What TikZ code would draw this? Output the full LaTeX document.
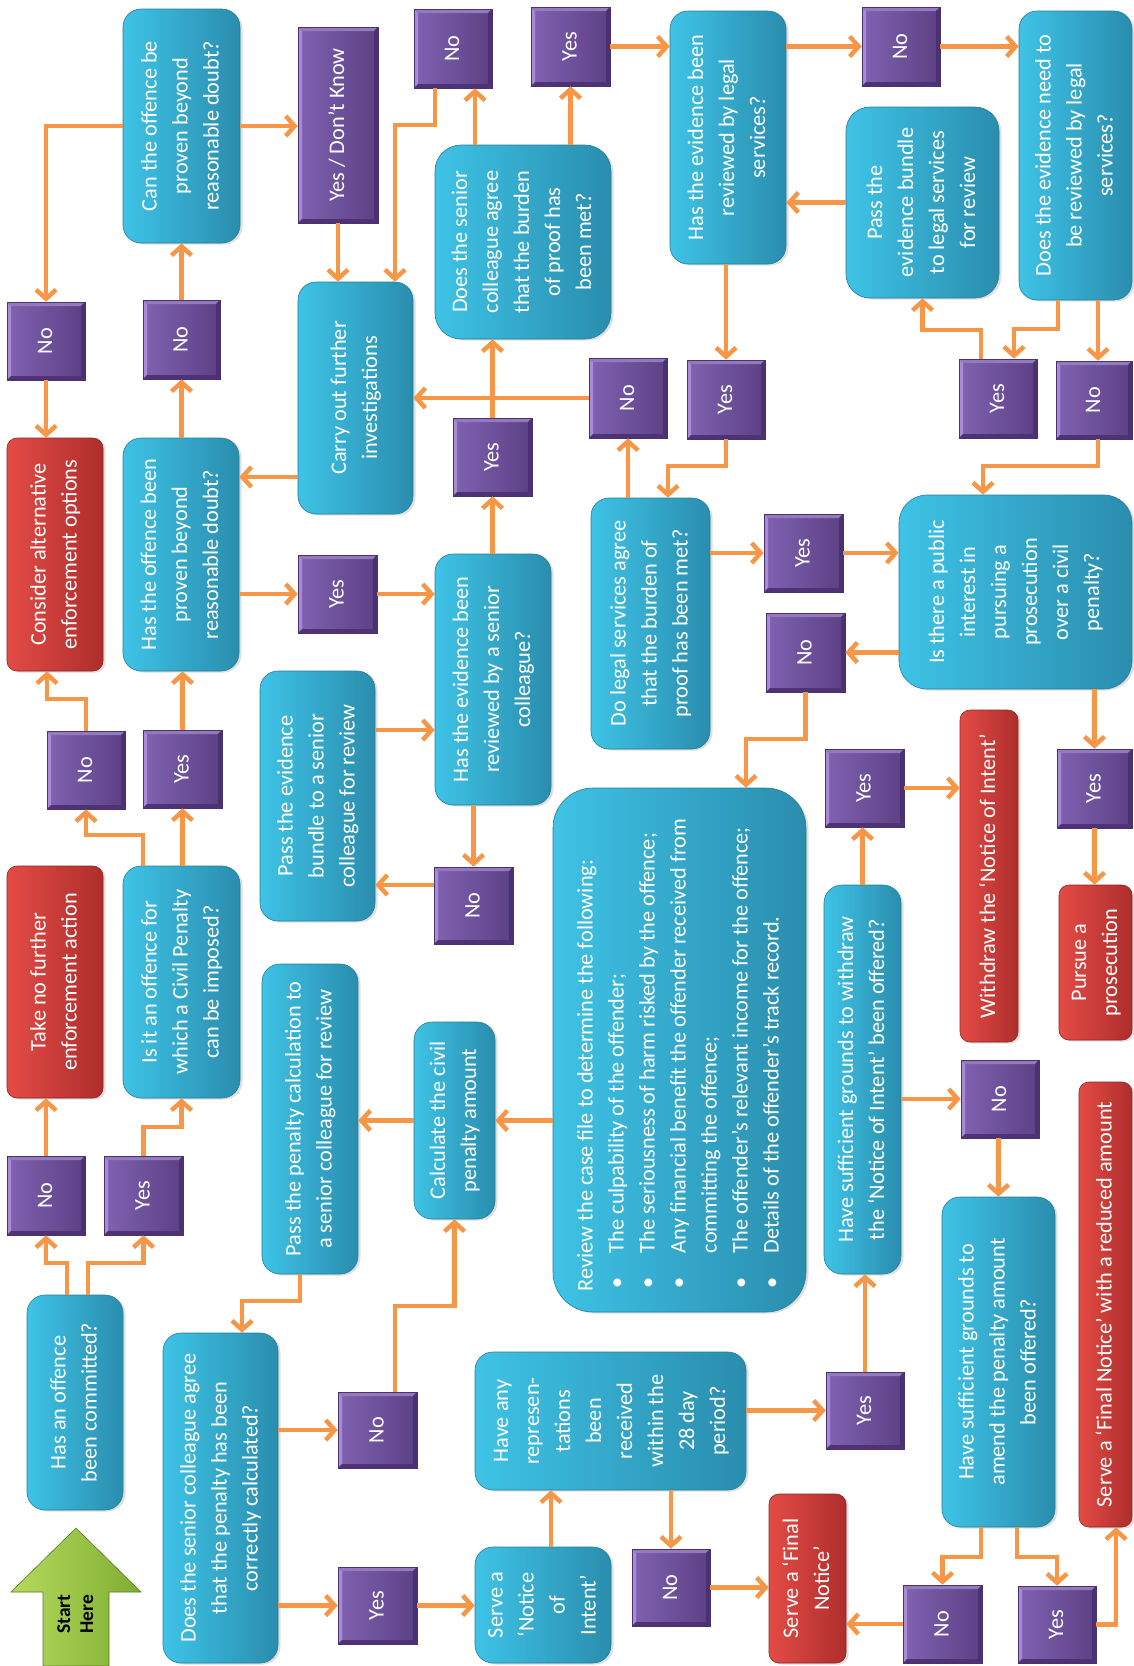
\documentclass[tikz,border=0pt]{standalone}
\usepackage{fontspec}
\setmainfont{Carlito}
\usepackage{graphicx}
\usetikzlibrary{arrows.meta,shadows}
\definecolor{arrowC}{HTML}{F79646}
\definecolor{cyL}{HTML}{3EC3E6}
\definecolor{cyR}{HTML}{2A8DAE}
\definecolor{cyD}{HTML}{237E9C}
\definecolor{puL}{HTML}{8062B2}
\definecolor{puR}{HTML}{5C4084}
\definecolor{puHi}{HTML}{A98AD8}
\definecolor{puLo}{HTML}{4A3170}
\definecolor{reL}{HTML}{E44B45}
\definecolor{reR}{HTML}{AE2E2C}
\definecolor{grL}{HTML}{B4DA5C}
\definecolor{grR}{HTML}{7FAE32}
\newcommand\rtx[1]{\rotatebox{90}{\begin{tabular}{@{}c@{}}#1\end{tabular}}}
\newcommand\bul{\makebox[38pt][l]{\hspace{3pt}•}}
\newcommand\pbevel{%
 \fill[puHi] (path picture bounding box.south west) -- (path picture bounding box.north west) -- ([shift={(4pt,-4pt)}]path picture bounding box.north west) -- ([shift={(4pt,4pt)}]path picture bounding box.south west) -- cycle;
 \fill[puL!85!white] (path picture bounding box.north west) -- (path picture bounding box.north east) -- ([shift={(-4pt,-4pt)}]path picture bounding box.north east) -- ([shift={(4pt,-4pt)}]path picture bounding box.north west) -- cycle;
 \fill[puLo] (path picture bounding box.north east) -- (path picture bounding box.south east) -- ([shift={(-4pt,4pt)}]path picture bounding box.south east) -- ([shift={(-4pt,-4pt)}]path picture bounding box.north east) -- cycle;
 \fill[puLo!85!puR] (path picture bounding box.south west) -- (path picture bounding box.south east) -- ([shift={(-4pt,4pt)}]path picture bounding box.south east) -- ([shift={(4pt,4pt)}]path picture bounding box.south west) -- cycle;}
\tikzset{
 base/.style={inner sep=0pt, text=white, font=\fontsize{22.3}{31}\selectfont},
 shad/.style={drop shadow={shadow xshift=2.5pt, shadow yshift=-1.5pt, opacity=0.25}},
 cbox/.style 2 args={base, shad, rectangle, rounded corners=18pt, left color=cyL, right color=cyR, draw=cyD, line width=0.6pt, minimum width=#1pt, minimum height=#2pt},
 rbox/.style 2 args={base, shad, rectangle, rounded corners=10pt, left color=reL, right color=reR, draw=reR!80!black, line width=0.6pt, minimum width=#1pt, minimum height=#2pt},
 pbox/.style 2 args={base, rectangle, left color=puL, right color=puR, draw=puLo, line width=0.6pt, minimum width=#1pt, minimum height=#2pt, path picture={\pbevel}},
 arr/.style={draw=arrowC, line width=4.5pt, -{Straight Barb[length=9pt,width=20pt]}}
}
\begin{document}
\begin{tikzpicture}[x=1pt,y=-1pt]
\useasboundingbox (0,0) rectangle (1134,1666);
\fill[white] (0,0) rectangle (1134,1666);

% start arrow
\shade[left color=grL, right color=grR, draw=grR!70!black, line width=0.6pt]
 (43,1666) -- (43,1592) -- (11,1592) -- (76,1528) -- (141,1592) -- (109,1592) -- (109,1666) -- cycle;
\node[inner sep=0pt, text=black, font=\bfseries\fontsize{19.5}{23}\selectfont] (start) at (77,1614) {\rtx{Start\\Here}};

% nodes
\node[cbox={96}{215}] (oc) at (75,1402.5) {\rtx{Has an offence\\been committed?}};
\node[pbox={78}{79}] (n0) at (46,1195.5) {\rtx{No}};
\node[pbox={79}{79}] (y0) at (143.5,1195.5) {\rtx{Yes}};
\node[rbox={96}{232}] (tnf) at (55,982) {\rtx{Take no further\\enforcement action}};
\node[cbox={117}{232}] (cp) at (181.5,982) {\rtx{Is it an offence for\\which a Civil Penalty\\can be imposed?}};
\node[pbox={78}{78}] (nc) at (86,770) {\rtx{No}};
\node[pbox={79}{78}] (yc) at (182.5,769) {\rtx{Yes}};
\node[rbox={96}{233}] (consider) at (55,554.5) {\rtx{Consider alternative\\enforcement options}};
\node[cbox={116}{233}] (hop) at (181,554.5) {\rtx{Has the offence been\\proven beyond\\reasonable doubt?}};
\node[pbox={78}{78}] (n1) at (46,341) {\rtx{No}};
\node[pbox={77}{79}] (n2) at (181.5,339.5) {\rtx{No}};
\node[cbox={117}{234}] (can) at (181.5,126) {\rtx{Can the offence be\\proven beyond\\reasonable doubt?}};
\node[pbox={80}{196}] (ydk) at (338,125) {\rtx{Yes / Don’t Know}};
\node[cbox={115}{232}] (carry) at (355.5,398) {\rtx{Carry out further\\investigations}};
\node[pbox={79}{78}] (yh) at (337.5,594) {\rtx{Yes}};
\node[cbox={115}{250}] (pes) at (317.5,796) {\rtx{Pass the evidence\\bundle to a senior\\colleague for review}};
\node[cbox={96}{310}] (ppc) at (310,1119) {\rtx{Pass the penalty calculation to\\a senior colleague for review}};
\node[cbox={115}{330}] (sca) at (220.5,1498) {\rtx{Does the senior colleague agree\\that the penalty has been\\correctly calculated?}};
\node[pbox={79}{76}] (nsc) at (377.5,1430) {\rtx{No}};
\node[pbox={79}{77}] (ysc) at (377.5,1605.5) {\rtx{Yes}};
\node[cbox={81}{197}] (cc) at (454.5,1120.5) {\rtx{Calculate the civil\\penalty amount}};
\node[cbox={136}{116}] (sn) at (543,1605) {\rtx{Serve a\\‘Notice\\of\\Intent’}};
\node[cbox={271}{138}] (hr) at (610.5,1421) {\rtx{Have any\\represen-\\tations\\been\\received\\within the\\28 day\\period?}};
\node[pbox={78}{77}] (nhr) at (671,1587.5) {\rtx{No}};
\node[rbox={77}{169}] (sf) at (807.5,1578.5) {\rtx{Serve a ‘Final\\Notice’}};
\node[pbox={78}{77}] (yhr) at (865,1410.5) {\rtx{Yes}};
\node[cbox={77}{389}] (hw) at (862.5,1079.5) {\rtx{Have sufficient grounds to withdraw\\the ‘Notice of Intent’ been offered?}};
\node[pbox={79}{78}] (yw) at (864.5,788) {\rtx{Yes}};
\node[rbox={58}{332}] (wd) at (989,876) {\rtx{Withdraw the ‘Notice of Intent’}};
\node[pbox={78}{78}] (nw) at (1000,1099) {\rtx{No}};
\node[cbox={113}{330}] (ha) at (998.5,1362) {\rtx{Have sufficient grounds to\\amend the penalty amount\\been offered?}};
\node[pbox={79}{78}] (na) at (942.5,1624) {\rtx{No}};
\node[pbox={78}{77}] (ya) at (1057,1624.5) {\rtx{Yes}};
\node[rbox={53}{445}] (sfr) at (1105.5,1304.5) {\rtx{Serve a ‘Final Notice’ with a reduced amount}};
\node[cbox={253}{524}, rounded corners=40pt] (rv) at (679.5,1050) {\rotatebox{90}{\begin{tabular}{@{}p{482pt}@{}}Review the case file to determine the following:\\
\bul The culpability of the offender;\\
\bul The seriousness of harm risked by the offence;\\
\bul Any financial benefit the offender received from\\
\hspace*{38pt}committing the offence;\\
\bul The offender’s relevant income for the offence;\\
\bul Details of the offender’s track record.\end{tabular}}};
\node[cbox={116}{251}] (sr) at (493,679.5) {\rtx{Has the evidence been\\reviewed by a senior\\colleague?}};
\node[pbox={79}{77}] (ns) at (473.5,905.5) {\rtx{No}};
\node[pbox={79}{78}] (ys) at (492.5,457) {\rtx{Yes}};
\node[cbox={176}{194}, rounded corners=26pt] (sa) at (523,242) {\rtx{Does the senior\\colleague agree\\that the burden\\of proof has\\been met?}};
\node[pbox={78}{79}] (nt) at (453,48.5) {\rtx{No}};
\node[pbox={79}{79}] (yt) at (570.5,46.5) {\rtx{Yes}};
\node[cbox={116}{253}] (lr) at (728,137.5) {\rtx{Has the evidence been\\reviewed by legal\\services?}};
\node[pbox={78}{80}] (nm) at (628,398) {\rtx{No}};
\node[pbox={78}{79}] (ym) at (726,399.5) {\rtx{Yes}};
\node[cbox={119}{251}] (dl) at (650.5,623.5) {\rtx{Do legal services agree\\that the burden of\\proof has been met?}};
\node[pbox={79}{78}] (ydl) at (803.5,553) {\rtx{Yes}};
\node[pbox={78}{79}] (nf) at (901,46.5) {\rtx{No}};
\node[cbox={153}{191}, rounded corners=24pt] (pl) at (922.5,202.5) {\rtx{Pass the\\evidence bundle\\to legal services\\for review}};
\node[cbox={113}{289}] (nl) at (1075.5,155.5) {\rtx{Does the evidence need to\\be reviewed by legal\\services?}};
\node[pbox={78}{79}] (yl) at (998,398.5) {\rtx{Yes}};
\node[pbox={76}{78}] (nlo) at (1094,400) {\rtx{No}};
\node[cbox={233}{194}, rounded corners=28pt] (pi) at (1015.5,592) {\rtx{Is there a public\\interest in\\pursuing a\\prosecution\\over a civil\\penalty?}};
\node[pbox={79}{79}] (npi) at (805.5,652.5) {\rtx{No}};
\node[pbox={75}{79}] (ypi) at (1094.5,788.5) {\rtx{Yes}};
\node[rbox={73}{155}] (pu) at (1095.5,962.5) {\rtx{Pursue a\\prosecution}};

% connectors
\draw[arr] (oc.north -| 67,0) -- (67,1263) -| (n0.south);
\draw[arr] (oc.north -| 88,0) -- (88,1263) -| (y0.south);
\draw[arr] (n0.north) -- (n0.north |- tnf.south);
\draw[arr] (y0.north) -- (143.5,1127) -| (cp.south);
\draw[arr] (cp.north -| 143,0) -- (143,835) -| (nc.south);
\draw[arr] (cp.north -| yc.south) -- (yc.south);
\draw[arr] (nc.north) -- (86,699) -| (consider.south -| 47,0);
\draw[arr] (yc.north) -- (yc.north |- hop.south);
\draw[arr] (hop.east |- yh.west) -- (yh.west);
\draw[arr] (hop.north -| n2.south) -- (n2.south);
\draw[arr] (n2.north) -- (n2.north |- can.south);
\draw[arr] (can.west) -| (n1.north);
\draw[arr] (n1.south) -- (n1.south |- consider.north);
\draw[arr] (can.east) -- (ydk.west |- can.east);
\draw[arr] (ydk.south) -- (ydk.south |- carry.north);
\draw[arr] (carry.west |- 0,477) -- (hop.east |- 0,477);
\draw[arr] (nt.south -| 435,0) -- (435,125) -| (carry.north -| 395,0);
\draw[arr] (sa.north -| 475,0) -- (nt.south -| 475,0);
\draw[arr] (sa.north -| yt.south) -- (yt.south);
\draw[arr] (yt.east) -- (lr.west |- yt.east);
\draw[arr] (lr.east |- nf.west) -- (nf.west);
\draw[arr] (nf.east) -- (nl.west |- nf.east);
\draw[arr] (pl.west) -- (lr.east |- pl.west);
\draw[arr] (nl.south -| 1058,0) -- (1058,329) -| (yl.north -| 1014,0);
\draw[arr] (nl.south -| 1098,0) -- (nlo.north -| 1098,0);
\draw[arr] (yl.north -| 981,0) -- (981,330) -| (pl.south);
\draw[arr] (nlo.south -| 1098,0) -- (1098,466) -| (pi.north -| 983,0);
\draw[arr] (lr.south -| ym.north) -- (ym.north);
\draw[arr] (ym.south) -- (ym.south |- 0,466) -| (dl.north -| 668,0);
\draw[arr] (dl.north -| nm.south) -- (nm.south);
\draw[arr] (nm.west) -- (carry.east |- nm.west);
\draw[arr] (ys.north) -- (ys.north |- sa.south);
\draw[arr] (sr.north -| ys.south) -- (ys.south);
\draw[arr] (yh.east) -- (sr.west |- yh.east);
\draw[arr] (pes.east |- 0,730) -- (sr.west |- 0,730);
\draw[arr] (sr.south -| ns.north) -- (ns.north);
\draw[arr] (ns.west |- 0,885) -- (pes.east |- 0,885);
\draw[arr] (dl.east |- ydl.west) -- (ydl.west);
\draw[arr] (ydl.east) -- (pi.west |- ydl.east);
\draw[arr] (pi.west |- npi.east) -- (npi.east);
\draw[arr] (npi.south) -- (npi.south |- 0,739) -| (rv.north -| 746,0);
\draw[arr] (pi.south -| ypi.north) -- (ypi.north);
\draw[arr] (ypi.south) -- (ypi.south |- pu.north);
\draw[arr] (yw.east) -- (wd.west |- yw.east);
\draw[arr] (hw.north) -- (hw.north |- yw.south);
\draw[arr] (hw.east |- nw.west) -- (nw.west);
\draw[arr] (nw.south -| ha.north) -- (ha.north);
\draw[arr] (ha.south -| 981,0) -- (981,1557) -| (na.north);
\draw[arr] (ha.south -| 1017,0) -- (1017,1557) -| (ya.north);
\draw[arr] (ya.east) -| (sfr.south -| 1116,0);
\draw[arr] (na.west) -- (sf.east |- na.west);
\draw[arr] (nhr.east) -- (sf.west |- nhr.east);
\draw[arr] (hr.south -| nhr.north) -- (nhr.north);
\draw[arr] (sn.north -| 551,0) -- (hr.south -| 551,0);
\draw[arr] (ysc.east) -- (sn.west |- ysc.east);
\draw[arr] (sca.east |- ysc.west) -- (ysc.west);
\draw[arr] (sca.east |- nsc.west) -- (nsc.west);
\draw[arr] (nsc.north -| 395,0) -- (395,1306) -| (cc.south);
\draw[arr] (rv.west |- cc.east) -- (cc.east);
\draw[arr] (cc.west) -- (ppc.east |- cc.west);
\draw[arr] (ppc.south -| 300,0) -- (300,1301) -| (sca.north -| 242,0);
\draw[arr] (yhr.north) -- (yhr.north |- hw.south);
\draw[arr] (hr.east |- yhr.west) -- (yhr.west);
\end{tikzpicture}
\end{document}
